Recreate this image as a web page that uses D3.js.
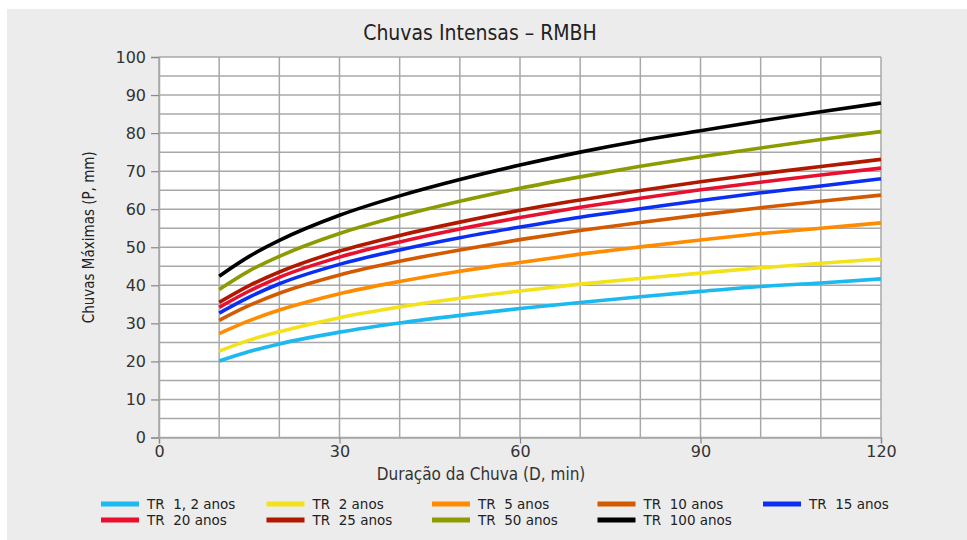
<!DOCTYPE html>
<html>
<head>
<meta charset="utf-8">
<script src="https://cdn.jsdelivr.net/npm/d3@7"></script>
<style>
  html, body { margin: 0; padding: 0; background: #ffffff; }
  svg { display: block; }
</style>
</head>
<body>
<svg id="chart" width="967" height="540"></svg>
<script>
// ---- Data ----
const durations = [10, 15, 20, 30, 40, 50, 60, 70, 80, 90, 100, 110, 120];
const seriesNames = ["TR  1, 2 anos", "TR  2 anos", "TR  5 anos", "TR  10 anos", "TR  15 anos",
                     "TR  20 anos", "TR  25 anos", "TR  50 anos", "TR  100 anos"];
const seriesColors = ["#1cb9f0", "#f3e21a", "#ff8c00", "#d45a00", "#0b2ff2",
                      "#e8102e", "#b01800", "#8c9c00", "#000000"];
const tr1_2  = [20.1, 22.6, 24.6, 27.7, 30.1, 32.1, 33.9, 35.5, 37.0, 38.4, 39.7, 40.6, 41.7];
const tr2    = [22.7, 25.6, 27.8, 31.5, 34.3, 36.6, 38.5, 40.3, 41.8, 43.2, 44.6, 45.8, 46.9];
const tr5    = [27.3, 30.7, 33.5, 37.8, 41.0, 43.7, 46.0, 48.2, 50.1, 51.9, 53.6, 55.0, 56.4];
const tr10   = [30.8, 34.7, 37.9, 42.7, 46.3, 49.3, 52.0, 54.4, 56.5, 58.5, 60.4, 62.1, 63.7];
const tr15   = [32.7, 36.9, 40.4, 45.5, 49.3, 52.5, 55.3, 57.9, 60.1, 62.3, 64.3, 66.1, 68.0];
const tr20   = [34.2, 38.5, 42.1, 47.4, 51.4, 54.8, 57.8, 60.5, 62.9, 65.1, 67.1, 69.0, 70.8];
const tr25   = [35.5, 39.9, 43.5, 49.0, 53.1, 56.6, 59.7, 62.4, 64.9, 67.2, 69.3, 71.2, 73.1];
const tr50   = [38.9, 43.8, 47.6, 53.6, 58.2, 62.1, 65.5, 68.5, 71.3, 73.8, 76.1, 78.3, 80.4];
const tr100  = [42.4, 47.6, 51.8, 58.4, 63.5, 67.8, 71.6, 75.0, 78.0, 80.6, 83.2, 85.6, 87.9];
const seriesValues = [tr1_2, tr2, tr5, tr10, tr15, tr20, tr25, tr50, tr100];
const xTicks = [0, 30, 60, 90, 120];
const yTicks = [0, 10, 20, 30, 40, 50, 60, 70, 80, 90, 100];
const titleText = "Chuvas Intensas – RMBH";
const xTitle = "Duração da Chuva (D, min)";
const yTitle = "Chuvas Máximas (P, mm)";

// ---- Layout ----
const svg = d3.select("#chart");
const W = 967, H = 540;
const plot = { left: 159, right: 881, top: 57, bottom: 437.5 };
const labelFont = "'DejaVu Sans', 'Open Sans', sans-serif";
const condFont = "'DejaVu Sans Condensed', 'DejaVu Sans', sans-serif";

// background panel
svg.append("rect").attr("x", 0).attr("y", 0).attr("width", W).attr("height", H).attr("fill", "#ffffff");
svg.append("rect").attr("x", 7).attr("y", 9).attr("width", W - 7).attr("height", H - 9).attr("fill", "#ececec");

const x = d3.scaleLinear().domain([0, 120]).range([plot.left, plot.right]);
const y = d3.scaleLinear().domain([0, 100]).range([plot.bottom, plot.top]);

// plot area
svg.append("rect")
  .attr("x", plot.left).attr("y", plot.top)
  .attr("width", plot.right - plot.left).attr("height", plot.bottom - plot.top)
  .attr("fill", "#ffffff");

// grid
const grid = svg.append("g");
grid.selectAll("line.v").data(d3.range(0, 121, 10)).join("line")
  .attr("x1", d => x(d)).attr("x2", d => x(d))
  .attr("y1", y(100)).attr("y2", y(0))
  .attr("stroke", "#a8a8a8").attr("stroke-width", 1.5);
grid.selectAll("line.h").data(d3.range(0, 101, 5)).join("line")
  .attr("x1", x(0)).attr("x2", x(120))
  .attr("y1", d => y(d)).attr("y2", d => y(d))
  .attr("stroke", "#a8a8a8").attr("stroke-width", 1.5);

// axes
const xAxis = d3.axisBottom(x).tickValues(xTicks).tickSize(6).tickPadding(2).tickFormat(d3.format("d"));
const yAxis = d3.axisLeft(y).tickValues(yTicks).tickSize(8).tickPadding(5).tickFormat(d3.format("d"));

const gx = svg.append("g").attr("transform", `translate(0,${plot.bottom})`).call(xAxis);
const gy = svg.append("g").attr("transform", `translate(${plot.left},0)`).call(yAxis);
[gx, gy].forEach(g => {
  g.select(".domain").attr("stroke", "#a8a8a8").attr("stroke-width", 1.5);
  g.selectAll(".tick line").attr("stroke", "#888").attr("stroke-width", 1.2);
  g.selectAll(".tick text").attr("fill", "#333").style("font-family", labelFont).style("font-size", "16px");
});

// lines
const line = d3.line().x((d, i) => x(durations[i])).y(d => y(d)).curve(d3.curveMonotoneX);
svg.append("g").selectAll("path").data(seriesValues).join("path")
  .attr("d", d => line(d))
  .attr("fill", "none")
  .attr("stroke", (d, i) => seriesColors[i])
  .attr("stroke-width", 3.6)
  .attr("stroke-linecap", "butt");

// titles
svg.append("text").attr("x", 480).attr("y", 40).attr("text-anchor", "middle")
  .style("font-family", condFont).style("font-size", "21px").attr("fill", "#222").text(titleText);
svg.append("text").attr("x", 481).attr("y", 480).attr("text-anchor", "middle")
  .style("font-family", condFont).style("font-size", "17px").attr("fill", "#333").text(xTitle);
svg.append("text").attr("transform", `translate(94,${(plot.top + plot.bottom) / 2 - 10}) rotate(-90)`)
  .attr("text-anchor", "middle")
  .style("font-family", condFont).style("font-size", "15px").attr("fill", "#222").text(yTitle);

// legend
const legend = svg.append("g");
const colW = 165.5, legX0 = 101, rowY = [504, 520];
seriesNames.forEach((name, i) => {
  const row = i < 5 ? 0 : 1;
  const col = i < 5 ? i : i - 5;
  const gx0 = legX0 + col * colW;
  legend.append("rect").attr("x", gx0).attr("y", rowY[row] - 2.5).attr("width", 38).attr("height", 5)
    .attr("fill", seriesColors[i]);
  legend.append("text").attr("x", gx0 + 46).attr("y", rowY[row] + 5)
    .style("font-family", labelFont).style("font-size", "13.5px").attr("fill", "#222")
    .attr("xml:space", "preserve").style("white-space", "pre").text(name);
});
</script>
</body>
</html>
